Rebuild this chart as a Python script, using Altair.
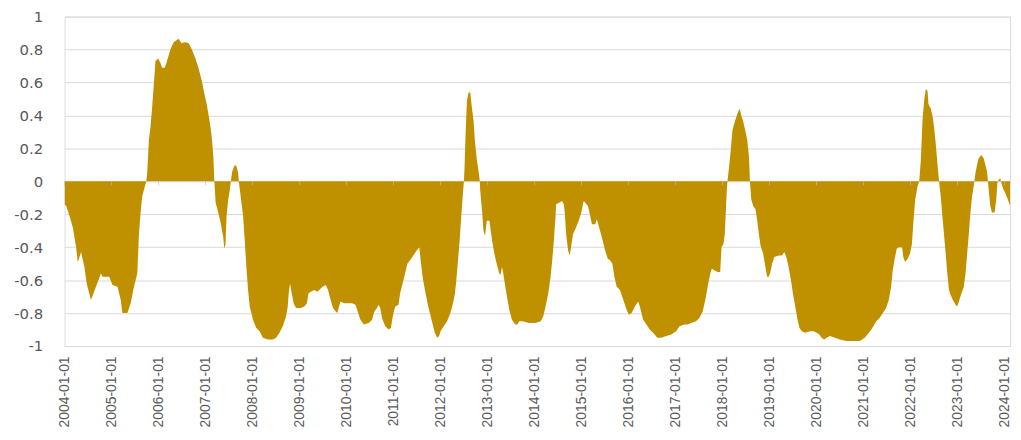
import altair as alt
import numpy as np
import pandas as pd

# (years since 2004-01-01, value)
seg_2004_2007 = [
    (0.0, -0.14), (0.035, -0.15), (0.106, -0.21), (0.176, -0.28), (0.246, -0.40),
    (0.281, -0.49), (0.352, -0.43), (0.422, -0.52), (0.471, -0.62), (0.563, -0.72),
    (0.668, -0.64), (0.774, -0.56), (0.809, -0.58), (0.950, -0.58), (1.020, -0.63),
    (1.126, -0.64), (1.196, -0.72), (1.231, -0.80), (1.337, -0.80), (1.407, -0.74),
    (1.477, -0.64), (1.548, -0.56), (1.583, -0.32), (1.618, -0.19), (1.653, -0.09),
    (1.710, -0.03), (1.738, 0.0), (1.759, 0.05), (1.794, 0.25), (1.829, 0.33),
    (1.864, 0.45), (1.900, 0.59), (1.935, 0.73), (1.991, 0.745), (2.040, 0.72),
    (2.075, 0.69), (2.132, 0.69), (2.181, 0.73), (2.251, 0.80), (2.322, 0.845),
    (2.427, 0.865), (2.484, 0.84), (2.568, 0.845), (2.638, 0.84), (2.709, 0.80),
    (2.779, 0.75), (2.849, 0.69), (2.920, 0.61), (2.955, 0.56), (2.990, 0.51),
    (3.025, 0.47), (3.060, 0.41), (3.096, 0.35), (3.131, 0.27), (3.166, 0.15),
    (3.187, 0.0), (3.215, -0.13), (3.271, -0.19), (3.328, -0.26), (3.377, -0.34),
    (3.398, -0.41), (3.426, -0.38), (3.447, -0.21), (3.483, -0.11), (3.518, -0.05),
    (3.539, 0.0), (3.567, 0.06), (3.623, 0.10), (3.659, 0.09), (3.694, 0.05),
    (3.708, 0.0),
]

seg_2007_2012 = [
    (3.729, -0.05), (3.764, -0.13), (3.799, -0.21), (3.834, -0.36), (3.869, -0.52),
    (3.905, -0.66), (3.940, -0.76), (3.975, -0.80), (4.010, -0.84), (4.080, -0.89),
    (4.151, -0.91), (4.221, -0.95), (4.327, -0.96), (4.432, -0.96), (4.503, -0.95),
    (4.573, -0.92), (4.643, -0.88), (4.714, -0.82), (4.749, -0.76), (4.770, -0.68),
    (4.798, -0.62), (4.833, -0.68), (4.875, -0.74), (4.925, -0.77), (5.030, -0.77),
    (5.101, -0.76), (5.157, -0.74), (5.192, -0.68), (5.241, -0.67), (5.312, -0.66),
    (5.382, -0.67), (5.488, -0.64), (5.558, -0.63), (5.607, -0.66), (5.663, -0.72),
    (5.713, -0.77), (5.769, -0.79), (5.804, -0.80), (5.839, -0.76), (5.874, -0.73),
    (5.945, -0.74), (6.015, -0.74), (6.121, -0.74), (6.191, -0.75), (6.226, -0.78),
    (6.296, -0.84), (6.367, -0.87), (6.472, -0.86), (6.543, -0.84), (6.592, -0.79),
    (6.648, -0.77), (6.683, -0.75), (6.719, -0.77), (6.754, -0.83), (6.824, -0.88),
    (6.894, -0.90), (6.944, -0.89), (6.972, -0.84), (7.000, -0.80), (7.035, -0.76),
    (7.106, -0.75), (7.141, -0.68), (7.176, -0.64), (7.246, -0.56), (7.295, -0.50),
    (7.352, -0.48), (7.422, -0.45), (7.492, -0.42), (7.549, -0.40), (7.577, -0.48),
    (7.619, -0.58), (7.668, -0.66), (7.739, -0.76), (7.809, -0.84), (7.879, -0.92),
    (7.929, -0.95), (7.971, -0.94), (7.999, -0.91), (8.069, -0.88), (8.140, -0.85),
    (8.210, -0.80), (8.266, -0.74), (8.308, -0.68), (8.337, -0.60), (8.372, -0.48),
    (8.407, -0.36), (8.442, -0.21), (8.477, -0.07), (8.498, 0.0), (8.512, 0.09),
    (8.534, 0.29), (8.562, 0.49), (8.597, 0.54), (8.632, 0.54), (8.667, 0.45),
    (8.702, 0.37), (8.730, 0.25), (8.773, 0.13), (8.815, 0.05), (8.836, 0.0),
]

seg_2012_2018 = [
    (8.843, -0.05), (8.886, -0.19), (8.914, -0.30), (8.949, -0.33), (8.984, -0.24),
    (9.040, -0.24), (9.097, -0.36), (9.146, -0.44), (9.195, -0.50), (9.251, -0.56),
    (9.273, -0.57), (9.308, -0.52), (9.336, -0.56), (9.378, -0.64), (9.427, -0.72),
    (9.463, -0.78), (9.519, -0.84), (9.589, -0.87), (9.638, -0.87), (9.674, -0.85),
    (9.744, -0.85), (9.885, -0.86), (10.025, -0.86), (10.131, -0.85), (10.187, -0.82),
    (10.236, -0.76), (10.293, -0.68), (10.342, -0.58), (10.377, -0.48), (10.412, -0.36),
    (10.447, -0.21), (10.461, -0.14), (10.518, -0.13), (10.588, -0.12), (10.623, -0.14),
    (10.644, -0.19), (10.672, -0.32), (10.715, -0.42), (10.750, -0.45), (10.778, -0.40),
    (10.820, -0.32), (10.870, -0.29), (10.940, -0.24), (10.996, -0.19), (11.045, -0.12),
    (11.080, -0.13), (11.137, -0.15), (11.186, -0.21), (11.221, -0.26), (11.292, -0.26),
    (11.327, -0.23), (11.376, -0.28), (11.432, -0.34), (11.503, -0.42), (11.559, -0.47),
    (11.608, -0.48), (11.657, -0.50), (11.700, -0.58), (11.749, -0.64), (11.819, -0.66),
    (11.890, -0.72), (11.960, -0.78), (12.009, -0.81), (12.065, -0.80), (12.136, -0.76),
    (12.206, -0.73), (12.241, -0.76), (12.312, -0.84), (12.382, -0.87), (12.452, -0.90),
    (12.523, -0.92), (12.614, -0.95), (12.699, -0.95), (12.804, -0.94), (12.910, -0.93),
    (13.015, -0.91), (13.085, -0.88), (13.191, -0.87), (13.261, -0.87), (13.332, -0.86),
    (13.437, -0.85), (13.508, -0.83), (13.578, -0.79), (13.634, -0.72), (13.684, -0.64),
    (13.740, -0.56), (13.775, -0.53), (13.824, -0.54), (13.895, -0.55), (13.951, -0.55),
    (13.979, -0.40), (14.021, -0.38), (14.049, -0.32), (14.070, -0.19), (14.092, -0.05),
    (14.106, 0.0),
]

seg_2018_2024 = [
    (14.141, 0.09), (14.176, 0.19), (14.211, 0.31), (14.260, 0.36), (14.316, 0.41),
    (14.366, 0.44), (14.401, 0.40), (14.443, 0.36), (14.492, 0.30), (14.527, 0.25),
    (14.563, 0.15), (14.584, 0.0), (14.612, -0.11), (14.654, -0.15), (14.703, -0.17),
    (14.739, -0.24), (14.774, -0.32), (14.809, -0.39), (14.865, -0.44), (14.914, -0.52),
    (14.950, -0.58), (14.985, -0.58), (15.020, -0.55), (15.055, -0.50), (15.104, -0.46),
    (15.196, -0.45), (15.266, -0.45), (15.315, -0.43), (15.358, -0.46), (15.407, -0.52),
    (15.456, -0.60), (15.498, -0.68), (15.548, -0.76), (15.597, -0.84), (15.639, -0.89),
    (15.688, -0.91), (15.759, -0.92), (15.864, -0.91), (15.935, -0.91), (16.005, -0.92),
    (16.061, -0.93), (16.110, -0.95), (16.160, -0.96), (16.216, -0.95), (16.286, -0.94),
    (16.392, -0.95), (16.497, -0.96), (16.638, -0.97), (16.779, -0.97), (16.919, -0.97),
    (17.025, -0.95), (17.116, -0.92), (17.187, -0.89), (17.271, -0.85), (17.342, -0.83),
    (17.412, -0.80), (17.482, -0.77), (17.538, -0.72), (17.588, -0.64), (17.623, -0.54),
    (17.658, -0.48), (17.707, -0.41), (17.750, -0.40), (17.820, -0.40), (17.848, -0.46),
    (17.883, -0.49), (17.939, -0.47), (17.989, -0.44), (18.031, -0.38), (18.066, -0.23),
    (18.101, -0.11), (18.151, -0.03), (18.186, 0.0), (18.221, 0.13), (18.256, 0.37),
    (18.291, 0.49), (18.326, 0.56), (18.362, 0.55), (18.383, 0.47), (18.432, 0.44),
    (18.467, 0.40), (18.502, 0.33), (18.537, 0.23), (18.573, 0.11), (18.608, 0.0),
    (18.643, -0.09), (18.678, -0.21), (18.713, -0.32), (18.749, -0.44), (18.784, -0.56),
    (18.819, -0.66), (18.854, -0.69), (18.903, -0.72), (18.960, -0.75), (18.995, -0.76),
    (19.030, -0.73), (19.086, -0.68), (19.135, -0.64), (19.171, -0.56), (19.206, -0.44),
    (19.241, -0.32), (19.276, -0.19), (19.311, -0.09), (19.361, 0.0), (19.382, 0.05),
    (19.417, 0.10), (19.452, 0.14), (19.508, 0.16), (19.557, 0.14), (19.593, 0.10),
    (19.628, 0.06), (19.649, 0.0), (19.663, -0.05), (19.698, -0.15), (19.733, -0.19),
    (19.790, -0.19), (19.825, -0.11), (19.853, 0.0), (19.909, 0.02), (19.944, -0.02),
    (19.979, -0.05), (20.015, -0.07), (20.071, -0.11), (20.120, -0.15),
]

tick_years = list(range(2004, 2025))
y_ticks = [-1, -0.8, -0.6, -0.4, -0.2, 0, 0.2, 0.4, 0.6, 0.8, 1]

rows = seg_2004_2007 + seg_2007_2012 + seg_2012_2018 + seg_2018_2024
t = np.array([r[0] for r in rows])
v = np.array([r[1] for r in rows])
start = pd.Timestamp("2004-01-01")
df = pd.DataFrame({
    "date": start + pd.to_timedelta(t * 365.2425, unit="D"),
    "value": v,
})
ticks_df = pd.DataFrame({"date": pd.to_datetime([f"{y}-01-01" for y in tick_years])})

GOLD = "#BF9000"
GREY = "#595959"

x_scale = alt.Scale(
    domain=[alt.DateTime(year=2004, month=1, date=1),
            alt.DateTime(year=2024, month=2, date=13)],
    nice=False,
)
y_scale = alt.Scale(domain=[-1, 1], nice=False)

area = alt.Chart(df).mark_area(color=GOLD, clip=True, interpolate="linear").encode(
    x=alt.X(
        "date:T",
        scale=x_scale,
        title=None,
        axis=alt.Axis(
            values=[alt.DateTime(year=y, month=1, date=1) for y in tick_years],
            tickCount=len(tick_years) + 5,
            format="%Y-%m-%d",
            labelAngle=-90,
            labelPadding=10,
            labelFontSize=14,
            labelFont="Liberation Sans",
            labelColor=GREY,
            labelFlush=False,
            labelOverlap=False,
            labelBound=False,
            ticks=False,
            domain=False,
            grid=False,
        ),
    ),
    y=alt.Y(
        "value:Q",
        scale=y_scale,
        title=None,
        axis=alt.Axis(
            values=y_ticks,
            tickCount=len(y_ticks) + 5,
            labelExpr="replace(format(datum.value, '.1~f'), '\u2212', '-')",
            labelFontSize=15,
            labelFont="DejaVu Sans",
            labelColor=GREY,
            labelPadding=22,
            labelOverlap=False,
            labelFlush=False,
            ticks=False,
            domain=False,
            grid=True,
            gridColor="#D9D9D9",
            gridWidth=1,
        ),
    ),
)

zero_ticks = alt.Chart(ticks_df).mark_tick(
    orient="vertical", size=4, thickness=1, color="#BFBFBF", yOffset=2
).encode(
    x=alt.X("date:T", scale=x_scale),
    y=alt.datum(0),
)

chart = alt.layer(area, zero_ticks).properties(
    width=953,
    height=332,
    autosize=alt.AutoSizeParams(type="none"),
    padding={"left": 57, "top": 7, "right": 3, "bottom": 85},
).configure_view(stroke=None).configure(background="white")

chart.save("out.html", embed_options={"renderer": "svg", "actions": False})
